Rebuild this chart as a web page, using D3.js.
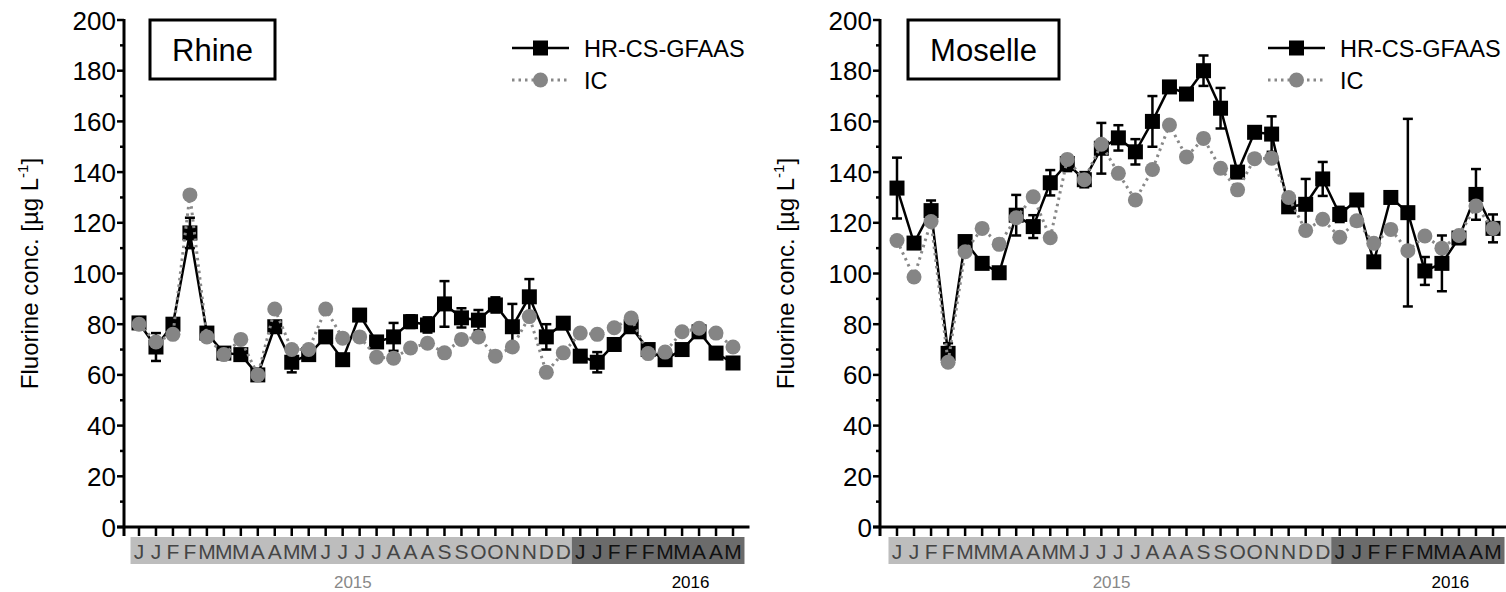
<!DOCTYPE html>
<html>
<head>
<meta charset="utf-8">
<script src="https://cdn.jsdelivr.net/npm/d3@7"></script>
<style>
  body { margin: 0; background: #fff; }
  svg text { font-family: Arial, "Liberation Sans", sans-serif; }
</style>
</head>
<body>
<svg id="chart" width="1506" height="592"></svg>
<script>
var months2015 = ['J','J','F','F','M','M','M','A','A','M','M','J','J','J','J','A','A','A','S','S','O','O','N','N','D','D']
var months2016 = ['J','J','F','F','F','M','M','A','A','M']
var months = months2015.concat(months2016)
var yTicks = [0, 20, 40, 60, 80, 100, 120, 140, 160, 180, 200]

var rhineHR = [80.5, 71, 80, 116, 76.5, 68.6, 68, 60, 79, 65, 68, 75, 66, 83.6, 73, 75, 81, 79.7,
  88, 82.5, 81.6, 87.6, 79, 90.8, 75, 80.4, 67.4, 65, 72, 79, 70, 66, 70, 77, 68.6, 64.7]
var rhineHRerr = [1.5, 5.5, 2, 6, 1.5, 1.5, 1, 1.5, 1.5, 4, 1.5, 2, 1, 1, 1.5, 5.5, 2.5, 3,
  9, 3.8, 4, 3, 9, 7, 5, 1.5, 1, 4, 1, 1, 1, 1, 1, 1.5, 1, 1]
var rhineIC = [80, 73, 76, 131, 75, 68, 74, 60, 86, 70, 70, 86, 74.5, 75, 67, 66.6, 70.6, 72.5,
  68.7, 74, 75, 67.4, 71, 83, 61, 68.7, 76.5, 76, 78.6, 82.4, 68.4, 69, 77, 78.4, 76.5, 71]

var moselleHR = [133.7, 112, 124.8, 68.5, 112.6, 104, 100.3, 123, 118.5, 135.8, 143.4, 137, 149.4, 153.5, 148, 160, 173.6, 170.8,
  180, 165.2, 140, 155.7, 155, 126.3, 127.3, 137.3, 123.3, 129, 104.6, 130, 124, 101, 104, 114, 131.2, 117.8]
var moselleHRerr = [12, 1.5, 4, 4, 1.5, 1.5, 1, 8, 4.5, 5, 3, 3, 10, 5, 5, 10, 2, 1,
  6, 8, 1.5, 1, 7, 2, 10, 6.7, 3, 1, 1, 1, 37, 5.5, 11, 1.5, 10, 5.5]
var moselleIC = [113, 98.6, 120.5, 65, 108.6, 117.8, 111.5, 122, 130.3, 114.1, 145, 137, 151, 139.5, 129, 141, 158.6, 146,
  153.3, 141.5, 133, 145.3, 145.5, 130, 117, 121.4, 114.3, 120.8, 111.9, 117.4, 109, 114.8, 110, 115, 126.6, 117.8]

var seriesNames = ['HR-CS-GFAAS', 'IC']

var panels = [
  {title: 'Rhine', hr: rhineHR, err: rhineHRerr, ic: rhineIC, axisX: 124, first: 139, last: 733, boxX: 150, boxW: 125, legX: 512},
  {title: 'Moselle', hr: moselleHR, err: moselleHRerr, ic: moselleIC, axisX: 880, first: 897, last: 1493, boxX: 908, boxW: 151, legX: 1268}
]

var svg = d3.select('#chart')

var y = d3.scaleLinear().domain([0, 200]).range([527, 20])

panels.forEach(drawPanel)

function drawPanel(p){
  var g = svg.append('g')
  var x = d3.scaleLinear().domain([0, months.length - 1]).range([p.first, p.last])
  var step = x(1) - x(0)
  var idx = d3.range(months.length)

  // month band
  g.append('rect')
    .attr('x', x(0) - step/2).attr('y', 537)
    .attr('width', x(25.5) - x(0) + step/2).attr('height', 27)
    .attr('fill', '#bdbdbd')
  g.append('rect')
    .attr('x', x(25.5)).attr('y', 537)
    .attr('width', x(35) + step/2 + 3 - x(25.5)).attr('height', 27)
    .attr('fill', '#6b6b6b')

  g.selectAll('text.month').data(months).enter().append('text')
    .attr('class', 'month')
    .attr('x', (d, i) => x(i)).attr('y', 559)
    .attr('text-anchor', 'middle')
    .attr('font-size', 21)
    .attr('fill', (d, i) => i < 26 ? '#454545' : '#111')
    .text(d => d)

  g.append('text').attr('x', x(12.6)).attr('y', 588).attr('text-anchor', 'middle')
    .attr('font-size', 17).attr('fill', '#888').text('2015')
  g.append('text').attr('x', x(32.5)).attr('y', 588).attr('text-anchor', 'middle')
    .attr('font-size', 17).attr('fill', '#000').text('2016')

  // x axis
  g.append('line')
    .attr('x1', p.axisX - 7).attr('x2', x(35) + step/2 + 8)
    .attr('y1', y(0)).attr('y2', y(0))
    .attr('stroke', '#000').attr('stroke-width', 3)
  g.selectAll('line.xt').data(idx).enter().append('line')
    .attr('class', 'xt')
    .attr('x1', d => x(d)).attr('x2', d => x(d))
    .attr('y1', y(0)).attr('y2', y(0) + 9)
    .attr('stroke', '#000').attr('stroke-width', 2.5)

  // y axis
  g.append('line')
    .attr('x1', p.axisX).attr('x2', p.axisX)
    .attr('y1', y(200) - 1).attr('y2', y(0) + 9)
    .attr('stroke', '#000').attr('stroke-width', 3)
  g.selectAll('line.yt').data(yTicks).enter().append('line')
    .attr('class', 'yt')
    .attr('x1', p.axisX - 7).attr('x2', p.axisX)
    .attr('y1', d => y(d)).attr('y2', d => y(d))
    .attr('stroke', '#000').attr('stroke-width', 2.5)
  g.selectAll('line.ym').data(d3.range(10, 200, 20)).enter().append('line')
    .attr('class', 'ym')
    .attr('x1', p.axisX - 4).attr('x2', p.axisX)
    .attr('y1', d => y(d)).attr('y2', d => y(d))
    .attr('stroke', '#000').attr('stroke-width', 2.5)
  g.selectAll('text.yl').data(yTicks).enter().append('text')
    .attr('class', 'yl')
    .attr('x', p.axisX - 8).attr('y', d => y(d) + 9.5)
    .attr('text-anchor', 'end').attr('font-size', 26)
    .text(d => d)

  var yt = g.append('text')
    .attr('transform', 'translate(' + (p.axisX - 86) + ',' + y(100) + ') rotate(-90)')
    .attr('text-anchor', 'middle').attr('font-size', 24)
  yt.append('tspan').text('Fluorine conc. [µg L')
  yt.append('tspan').attr('font-size', 15).attr('dy', -10).text('-1')
  yt.append('tspan').attr('dy', 10).text(']')

  // title box
  g.append('rect')
    .attr('x', p.boxX).attr('y', 20).attr('width', p.boxW).attr('height', 59)
    .attr('fill', '#fff').attr('stroke', '#000').attr('stroke-width', 3)
  g.append('text')
    .attr('x', p.boxX + p.boxW/2).attr('y', 61)
    .attr('text-anchor', 'middle').attr('font-size', 31)
    .text(p.title)

  // HR-CS-GFAAS
  var lineHR = d3.line().x((d, i) => x(i)).y(d => y(d))
  g.append('path').attr('d', lineHR(p.hr))
    .attr('fill', 'none').attr('stroke', '#000').attr('stroke-width', 2.5)

  var eb = g.selectAll('g.eb').data(idx).enter().append('g').attr('class', 'eb')
  eb.append('line')
    .attr('x1', d => x(d)).attr('x2', d => x(d))
    .attr('y1', d => y(p.hr[d] - p.err[d])).attr('y2', d => y(p.hr[d] + p.err[d]))
    .attr('stroke', '#000').attr('stroke-width', 2.5)
  ;[-1, 1].forEach(function(s){
    eb.append('line')
      .attr('x1', d => x(d) - 5).attr('x2', d => x(d) + 5)
      .attr('y1', d => y(p.hr[d] + s*p.err[d])).attr('y2', d => y(p.hr[d] + s*p.err[d]))
      .attr('stroke', '#000').attr('stroke-width', 2.5)
  })

  g.selectAll('rect.sq').data(p.hr).enter().append('rect')
    .attr('class', 'sq')
    .attr('x', (d, i) => x(i) - 7.5).attr('y', d => y(d) - 7.5)
    .attr('width', 15).attr('height', 15)
    .attr('fill', '#000')

  // IC
  g.append('path').attr('d', lineHR(p.ic))
    .attr('fill', 'none').attr('stroke', '#888').attr('stroke-width', 3)
    .attr('stroke-dasharray', '2.5,4')
  g.selectAll('circle.ic').data(p.ic).enter().append('circle')
    .attr('class', 'ic')
    .attr('cx', (d, i) => x(i)).attr('cy', d => y(d))
    .attr('r', 7.5).attr('fill', '#858585')

  // legend
  var lg = g.append('g').attr('transform', 'translate(' + p.legX + ',0)')
  lg.append('line').attr('x1', 0).attr('x2', 57).attr('y1', 48).attr('y2', 48)
    .attr('stroke', '#000').attr('stroke-width', 2.5)
  lg.append('rect').attr('x', 28.5 - 7.5).attr('y', 48 - 7.5).attr('width', 15).attr('height', 15).attr('fill', '#000')
  lg.append('line').attr('x1', 0).attr('x2', 57).attr('y1', 80).attr('y2', 80)
    .attr('stroke', '#888').attr('stroke-width', 3).attr('stroke-dasharray', '2.5,4')
  lg.append('circle').attr('cx', 28.5).attr('cy', 80).attr('r', 7.5).attr('fill', '#858585')
  lg.selectAll('text').data(seriesNames).enter().append('text')
    .attr('x', 72).attr('y', (d, i) => 56.5 + i*32)
    .attr('font-size', 23.5)
    .text(d => d)
}
</script>
</body>
</html>
